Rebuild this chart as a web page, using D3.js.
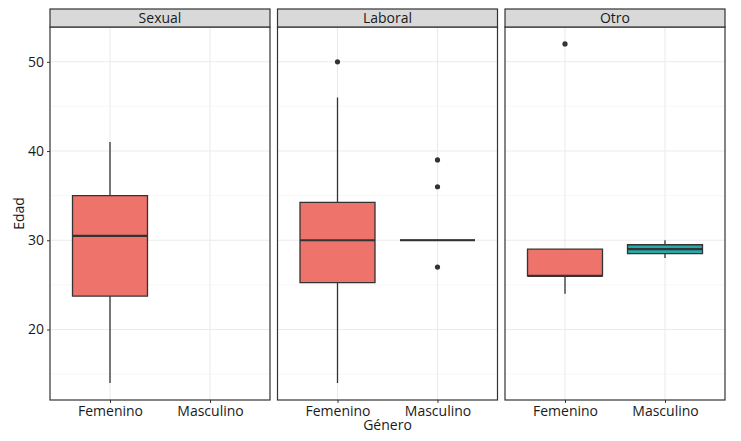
<!DOCTYPE html>
<html>
<head>
<meta charset="utf-8">
<script src="https://cdn.jsdelivr.net/npm/d3@7"></script>
<style>
    body { margin: 0; background: #fff; }
    text { font-family: "Open Sans", sans-serif; }
</style>
</head>
<body>
<svg id="chart"></svg>
<script>
// facets and groups
const facets = ["Sexual", "Laboral", "Otro"];
const generos = ["Femenino", "Masculino"];
const colores = ["#EE736B", "#27A9AA"];

// box summaries
const boxFacet  = ["Sexual", "Laboral", "Laboral", "Otro", "Otro"];
const boxGenero = ["Femenino", "Femenino", "Masculino", "Femenino", "Masculino"];
const boxMin = [14, 14, 30, 24, 28];
const boxQ1  = [23.75, 25.25, 30, 26, 28.5];
const boxMed = [30.5, 30, 30, 26, 29];
const boxQ3  = [35, 34.25, 30, 29, 29.5];
const boxMax = [41, 46, 30, 29, 30];

// outliers
const outFacet  = ["Laboral", "Laboral", "Laboral", "Laboral", "Otro"];
const outGenero = ["Femenino", "Masculino", "Masculino", "Masculino", "Femenino"];
const outEdad   = [50, 39, 36, 27, 52];

const yTicks = [20, 30, 40, 50];
const yMinor = [15, 25, 35, 45];

const width = 741, height = 441;
const panelTop = 27, panelBottom = 400, stripH = 18;

const svg = d3.select('#chart')
    .attr('width', width)
    .attr('height', height);

const fx = d3.scaleBand()
    .domain(facets)
    .range([50, 725])
    .paddingInner(0.033);

const x = d3.scalePoint()
    .domain(generos)
    .range([0, fx.bandwidth()])
    .padding(0.6);

const y = d3.scaleLinear()
    .domain([12.1, 53.9])
    .range([panelBottom, panelTop]);

const color = d3.scaleOrdinal().domain(generos).range(colores);

const boxW = x.step() * 0.75;

const boxes = boxFacet.map((f, i) => ({
    facet: f, genero: boxGenero[i],
    min: boxMin[i], q1: boxQ1[i], med: boxMed[i], q3: boxQ3[i], max: boxMax[i]
}));
const outliers = outFacet.map((f, i) => ({ facet: f, genero: outGenero[i], edad: outEdad[i] }));

facets.forEach(f => {
    const g = svg.append('g')
        .attr('transform', `translate(${fx(f)},0)`);
    const w = fx.bandwidth();

    // grid
    g.selectAll('.minor')
        .data(yMinor)
        .enter()
        .append('line')
        .attr('x1', 0).attr('x2', w)
        .attr('y1', d => y(d)).attr('y2', d => y(d))
        .style('stroke', '#F2F2F2')
        .style('stroke-width', 0.6);
    g.selectAll('.major')
        .data(yTicks)
        .enter()
        .append('line')
        .attr('x1', 0).attr('x2', w)
        .attr('y1', d => y(d)).attr('y2', d => y(d))
        .style('stroke', '#EBEBEB')
        .style('stroke-width', 1.1);
    g.selectAll('.vgrid')
        .data(generos)
        .enter()
        .append('line')
        .attr('x1', d => x(d)).attr('x2', d => x(d))
        .attr('y1', panelTop).attr('y2', panelBottom)
        .style('stroke', '#EBEBEB')
        .style('stroke-width', 1.1);

    // boxes
    const b = g.selectAll('.box')
        .data(boxes.filter(d => d.facet === f))
        .enter()
        .append('g');

    b.append('line')
        .attr('x1', d => x(d.genero)).attr('x2', d => x(d.genero))
        .attr('y1', d => y(d.max)).attr('y2', d => y(d.q3))
        .style('stroke', '#333').style('stroke-width', 1.3);
    b.append('line')
        .attr('x1', d => x(d.genero)).attr('x2', d => x(d.genero))
        .attr('y1', d => y(d.q1)).attr('y2', d => y(d.min))
        .style('stroke', '#333').style('stroke-width', 1.3);
    b.append('path')
        .attr('d', d => {
            const x0 = x(d.genero) - boxW / 2, x1 = x(d.genero) + boxW / 2;
            return `M${x0},${y(d.q3)}H${x1}V${y(d.q1)}H${x0}Z`;
        })
        .style('fill', d => color(d.genero))
        .style('stroke', '#333')
        .style('stroke-width', 1.3);
    b.append('line')
        .attr('x1', d => x(d.genero) - boxW / 2).attr('x2', d => x(d.genero) + boxW / 2)
        .attr('y1', d => y(d.med)).attr('y2', d => y(d.med))
        .style('stroke', '#333').style('stroke-width', 2.2);

    g.selectAll('.out')
        .data(outliers.filter(d => d.facet === f))
        .enter()
        .append('circle')
        .attr('cx', d => x(d.genero))
        .attr('cy', d => y(d.edad))
        .attr('r', 2.6)
        .style('fill', '#333');

    // panel border
    g.append('rect')
        .attr('x', 0).attr('y', panelTop)
        .attr('width', w).attr('height', panelBottom - panelTop)
        .style('fill', 'none')
        .style('stroke', '#333')
        .style('stroke-width', 1.2);

    // strip
    g.append('rect')
        .attr('x', 0).attr('y', panelTop - stripH)
        .attr('width', w).attr('height', stripH)
        .style('fill', '#D9D9D9')
        .style('stroke', '#333')
        .style('stroke-width', 1.2);
    g.append('text')
        .attr('x', w / 2).attr('y', panelTop - stripH / 2)
        .attr('dy', '0.35em')
        .attr('text-anchor', 'middle')
        .style('font-size', '14px')
        .style('fill', '#1a1a1a')
        .text(f);

    // x axis
    const ax = g.append('g')
        .attr('transform', `translate(0,${panelBottom})`)
        .call(d3.axisBottom(x).tickSize(3).tickPadding(3));
    ax.select('.domain').remove();
    ax.selectAll('line').style('stroke', '#333');
    ax.selectAll('text')
        .style('font-size', '14px')
        .style('fill', '#1a1a1a')
        .style('font-family', '"Open Sans", sans-serif');
});

// y axis
const ay = svg.append('g')
    .attr('transform', `translate(${fx(facets[0])},0)`)
    .call(d3.axisLeft(y).tickValues(yTicks).tickSize(3).tickPadding(3));
ay.select('.domain').remove();
ay.selectAll('line').style('stroke', '#333');
ay.selectAll('text')
    .style('font-size', '14px')
    .style('fill', '#1a1a1a')
    .style('font-family', '"Open Sans", sans-serif');

// axis titles
svg.append('text')
    .attr('x', (fx.range()[0] + fx.range()[1]) / 2)
    .attr('y', 430)
    .attr('text-anchor', 'middle')
    .style('font-size', '14px')
    .style('fill', '#1a1a1a')
    .text('Género');

svg.append('text')
    .attr('transform', `translate(24,${(panelTop + panelBottom) / 2}) rotate(-90)`)
    .attr('text-anchor', 'middle')
    .style('font-size', '14px')
    .style('fill', '#1a1a1a')
    .text('Edad');
</script>
</body>
</html>
